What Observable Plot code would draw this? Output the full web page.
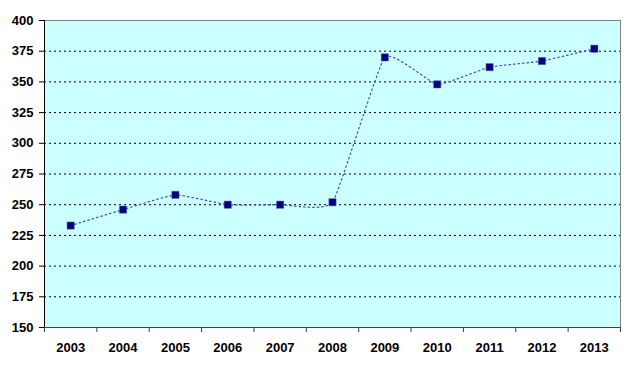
<!DOCTYPE html>
<html>
<head>
<meta charset="utf-8">
<script src="https://cdn.jsdelivr.net/npm/d3@7"></script>
<script src="https://cdn.jsdelivr.net/npm/@observablehq/plot@0.6"></script>
<style>
  html, body { margin: 0; padding: 0; background: #ffffff; }
</style>
</head>
<body>
<div id="chart"></div>
<script>
const years = [2003, 2004, 2005, 2006, 2007, 2008, 2009, 2010, 2011, 2012, 2013];
const values = [233, 246, 258, 250, 250, 252, 370, 348, 362, 367, 377];
const yTicks = [150, 175, 200, 225, 250, 275, 300, 325, 350, 375, 400];
const gridLines = [175, 200, 225, 250, 275, 300, 325, 350, 375];

const data = years.map((y, i) => ({year: y, value: values[i]}));
const boundaries = d3.range(years[0] - 0.5, years[years.length - 1] + 1, 1);

const chart = Plot.plot({
  width: 640,
  height: 366,
  marginLeft: 44,
  marginRight: 20,
  marginTop: 20,
  marginBottom: 39,
  style: {fontFamily: "Arial, 'Liberation Sans', sans-serif", fontSize: "13px", fontWeight: "bold", color: "#000"},
  x: {type: "linear", domain: [years[0] - 0.5, years[years.length - 1] + 0.5]},
  y: {domain: [150, 400]},
  marks: [
    Plot.frame({fill: "#CCFFFF", stroke: "#808080"}),
    Plot.ruleY(gridLines, {stroke: "#000", strokeDasharray: "2,3", strokeWidth: 1}),
    Plot.axisY(yTicks, {tickSize: 5, tickPadding: 6, stroke: "#000", label: null, tickFormat: d => String(d)}),
    Plot.axisX(boundaries, {tickSize: 5, tickFormat: () => "", stroke: "#404040", label: null}),
    Plot.axisX(years, {tickSize: 0, tickPadding: 15, tickFormat: d => String(d), label: null}),
    Plot.ruleY([150], {stroke: "#404040"}),
    Plot.ruleX([years[0] - 0.5], {stroke: "#000"}),
    Plot.line(data, {x: "year", y: "value", curve: "cardinal", tension: 0.6, stroke: "#4444c4", strokeWidth: 1.2, strokeDasharray: "1.5,3"}),
    Plot.dot(data, {x: "year", y: "value", symbol: "square", r: 4.1, fill: "#000080", stroke: "#6666b0", strokeWidth: 0.5})
  ]
});
document.getElementById("chart").appendChild(chart);
</script>
</body>
</html>
